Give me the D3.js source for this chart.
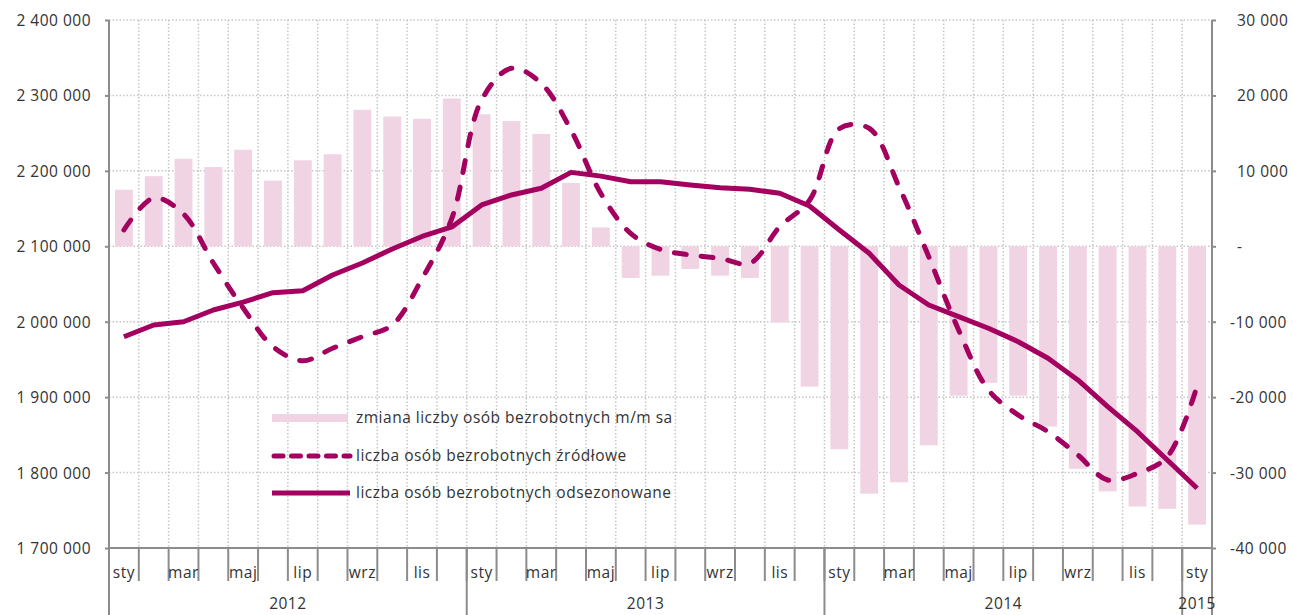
<!DOCTYPE html>
<html>
<head>
<meta charset="utf-8">
<script src="https://cdn.jsdelivr.net/npm/d3@7"></script>
<style>
  body { margin: 0; background: #fff; }
  text { font-family: "Open Sans", sans-serif; fill: #333; letter-spacing: 0.5px; }
</style>
</head>
<body>
<div id="chart"></div>
<script>
// Data

var categories = [
  "2012-01", "2012-02", "2012-03", "2012-04", "2012-05", "2012-06", "2012-07", "2012-08", "2012-09", "2012-10", "2012-11", "2012-12",
  "2013-01", "2013-02", "2013-03", "2013-04", "2013-05", "2013-06", "2013-07", "2013-08", "2013-09", "2013-10", "2013-11", "2013-12",
  "2014-01", "2014-02", "2014-03", "2014-04", "2014-05", "2014-06", "2014-07", "2014-08", "2014-09", "2014-10", "2014-11", "2014-12",
  "2015-01"
];

var monthLabels = [
  "sty", "", "mar", "", "maj", "", "lip", "", "wrz", "", "lis", "",
  "sty", "", "mar", "", "maj", "", "lip", "", "wrz", "", "lis", "",
  "sty", "", "mar", "", "maj", "", "lip", "", "wrz", "", "lis", "",
  "sty"
];

// year label and how many months it spans
var yearGroups = [["2012", 12], ["2013", 12], ["2014", 12], ["2015", 1]];

// change m/m sa (right axis)
var changeMM = [
  7500, 9300, 11600, 10500, 12800, 8700, 11400, 12200, 18100, 17200, 16900, 19600,
  17500, 16600, 14900, 8400, 2500, -4200, -3900, -3000, -3900, -4200, -10100, -18600,
  -26900, -32800, -31300, -26400, -19800, -18100, -19800, -23900, -29500, -32500, -34500, -34800,
  -36900
];

// unemployed, raw (left axis)
var rawSeries = [
  2121600, 2164000, 2142800, 2077900, 2018200, 1966900, 1948300, 1964800, 1980200, 1995700, 2057000, 2137000,
  2294000, 2336000, 2316000, 2254000, 2170000, 2117000, 2096000, 2088500, 2084000, 2077500, 2126000, 2161000,
  2256000, 2256500, 2179000, 2086000, 1989000, 1909500, 1876300, 1854200, 1823300, 1790200, 1799000, 1821000,
  1914800
];

// unemployed, seasonally adjusted (left axis)
var saSeries = [
  1980000, 1995700, 2000000, 2015500, 2026000, 2038500, 2041000, 2062000, 2077900, 2096400, 2113000, 2125600,
  2154800, 2168000, 2176900, 2198000, 2193000, 2185600, 2185600, 2181300, 2177700, 2175600, 2170300, 2153400,
  2121600, 2090700, 2048700, 2022200, 2006700, 1991300, 1973500, 1951500, 1922800, 1887400, 1854200, 1816700,
  1779200
];

var leftTicks = [1700000, 1800000, 1900000, 2000000, 2100000, 2200000, 2300000, 2400000];
var rightTicks = [-40000, -30000, -20000, -10000, 0, 10000, 20000, 30000];

var legendLabels = [
  "zmiana liczby osób bezrobotnych m/m sa",
  "liczba osób bezrobotnych źródłowe",
  "liczba osób bezrobotnych odsezonowane"
];

// SVG dimensions and margins
var svgWidth = 1293;
var svgHeight = 615;
var margin = { top: 20, right: 81, bottom: 67, left: 109 };
var width = svgWidth - margin.left - margin.right;
var height = svgHeight - margin.top - margin.bottom;

var lineColor = "#a3005f";
var barColor = "#f0d4e4";
var axisColor = "#8c8c8c";
var gridColor = "#c6c6c6";

var svg = d3.select("#chart")
  .append("svg")
  .attr("width", svgWidth)
  .attr("height", svgHeight);

var chartGroup = svg.append("g")
  .attr("transform", `translate(${margin.left}, ${margin.top})`);

// Scales
var xScale = d3.scaleBand()
  .domain(categories)
  .range([0, width])
  .padding(0);

var yLeft = d3.scaleLinear()
  .domain([1700000, 2400000])
  .range([height, 0]);

var yRight = d3.scaleLinear()
  .domain([-40000, 30000])
  .range([height, 0]);

var bw = xScale.bandwidth();
var cx = (d, i) => xScale(categories[i]) + bw / 2;

var locale = d3.formatLocale({ decimal: ",", thousands: "\u00a0", grouping: [3], currency: ["", ""], minus: "-" });
var fmt = locale.format(",d");

// Grid lines
chartGroup.append("g")
  .selectAll("line")
  .data(leftTicks.slice(1))
  .enter()
  .append("line")
  .attr("x1", 0)
  .attr("x2", width)
  .attr("y1", d => yLeft(d))
  .attr("y2", d => yLeft(d))
  .attr("stroke", gridColor)
  .attr("stroke-width", 1.5)
  .attr("stroke-dasharray", "1.5,2");

chartGroup.append("g")
  .selectAll("line")
  .data(categories.slice(1))
  .enter()
  .append("line")
  .attr("x1", d => xScale(d))
  .attr("x2", d => xScale(d))
  .attr("y1", 0)
  .attr("y2", height)
  .attr("stroke", gridColor)
  .attr("stroke-width", 1.5)
  .attr("stroke-dasharray", "1.5,2");

// Bars (right axis)
chartGroup.append("g")
  .selectAll("rect")
  .data(changeMM)
  .enter()
  .append("rect")
  .attr("x", (d, i) => xScale(categories[i]) + bw * 0.2)
  .attr("width", bw * 0.6)
  .attr("y", d => yRight(Math.max(0, d)))
  .attr("height", d => Math.abs(yRight(d) - yRight(0)))
  .attr("fill", barColor);

// Lines (left axis)
var rawLine = d3.line()
  .x(cx)
  .y(d => yLeft(d))
  .curve(d3.curveCatmullRom.alpha(0.5));

var saLine = d3.line()
  .x(cx)
  .y(d => yLeft(d));

chartGroup.append("path")
  .datum(rawSeries)
  .attr("d", rawLine)
  .attr("fill", "none")
  .attr("stroke", lineColor)
  .attr("stroke-width", 5)
  .attr("stroke-linecap", "round")
  .attr("stroke-dasharray", "12,15");

chartGroup.append("path")
  .datum(saSeries)
  .attr("d", saLine)
  .attr("fill", "none")
  .attr("stroke", lineColor)
  .attr("stroke-width", 5)
  .attr("stroke-linejoin", "round");

// Left axis
var leftAxis = d3.axisLeft(yLeft)
  .tickValues(leftTicks)
  .tickSize(4)
  .tickPadding(14)
  .tickFormat(fmt);

var gLeft = chartGroup.append("g").call(leftAxis);
gLeft.select(".domain").remove();
gLeft.selectAll("line").attr("stroke", axisColor).attr("stroke-width", 2);
gLeft.selectAll("text")
  .attr("font-size", "15.5px")
  .attr("font-family", "Open Sans, sans-serif")
  .attr("fill", "#333")
  .attr("dy", "0.35em");

// Right axis
var rightAxis = d3.axisRight(yRight)
  .tickValues(rightTicks)
  .tickSize(4)
  .tickFormat(d => d === 0 ? "-" : fmt(d));

var gRight = chartGroup.append("g")
  .attr("transform", `translate(${width},0)`)
  .call(rightAxis);
gRight.select(".domain").remove();
gRight.selectAll("line").attr("stroke", axisColor).attr("stroke-width", 2);
gRight.selectAll("text")
  .attr("font-size", "15.5px")
  .attr("font-family", "Open Sans, sans-serif")
  .attr("fill", "#333")
  .attr("dy", "0.35em")
  .attr("x", d => d < 0 ? 18 : 25);

// Axis lines: left and right go down past the category labels
chartGroup.append("line")
  .attr("x1", 0).attr("x2", 0)
  .attr("y1", 0).attr("y2", height + margin.bottom)
  .attr("stroke", axisColor).attr("stroke-width", 2);

chartGroup.append("line")
  .attr("x1", width).attr("x2", width)
  .attr("y1", 0).attr("y2", height + margin.bottom)
  .attr("stroke", axisColor).attr("stroke-width", 2);

chartGroup.append("line")
  .attr("x1", 0).attr("x2", width)
  .attr("y1", height).attr("y2", height)
  .attr("stroke", axisColor).attr("stroke-width", 2);

// Category separators
chartGroup.append("g")
  .selectAll("line")
  .data(categories.slice(1))
  .enter()
  .append("line")
  .attr("x1", d => xScale(d))
  .attr("x2", d => xScale(d))
  .attr("y1", height)
  .attr("y2", height + 33)
  .attr("stroke", axisColor)
  .attr("stroke-width", 2);

// Month labels
chartGroup.append("g")
  .selectAll("text")
  .data(monthLabels)
  .enter()
  .append("text")
  .attr("x", (d, i) => cx(d, i))
  .attr("y", height + 30)
  .attr("text-anchor", "middle")
  .attr("font-size", "15.5px")
  .text(d => d);

// Year separators and labels
var start = 0;
yearGroups.forEach(function (g) {
  var x0 = xScale(categories[start]);
  var x1 = start + g[1] < categories.length ? xScale(categories[start + g[1]]) : width;
  if (start > 0) {
    chartGroup.append("line")
      .attr("x1", x0).attr("x2", x0)
      .attr("y1", height).attr("y2", height + margin.bottom)
      .attr("stroke", axisColor).attr("stroke-width", 2);
  }
  chartGroup.append("text")
    .attr("x", (x0 + x1) / 2)
    .attr("y", height + 61)
    .attr("text-anchor", "middle")
    .attr("font-size", "15.5px")
    .text(g[0]);
  start += g[1];
});

// Legend
var legend = chartGroup.append("g")
  .attr("transform", "translate(163, 398)");

legend.append("rect")
  .attr("x", 0).attr("y", -4)
  .attr("width", 76).attr("height", 8)
  .attr("fill", barColor);

legend.append("line")
  .attr("x1", 2).attr("x2", 78)
  .attr("y1", 38).attr("y2", 38)
  .attr("stroke", lineColor)
  .attr("stroke-width", 5)
  .attr("stroke-linecap", "round")
  .attr("stroke-dasharray", "9,8.5");

legend.append("line")
  .attr("x1", 0).attr("x2", 78)
  .attr("y1", 75).attr("y2", 75)
  .attr("stroke", lineColor)
  .attr("stroke-width", 5);

legend.selectAll("text.leg")
  .data(legendLabels)
  .enter()
  .append("text")
  .attr("class", "leg")
  .attr("x", 84)
  .attr("y", (d, i) => i * 37.5)
  .attr("dy", "0.35em")
  .attr("font-size", "15.5px")
  .text(d => d);
</script>
</body>
</html>
